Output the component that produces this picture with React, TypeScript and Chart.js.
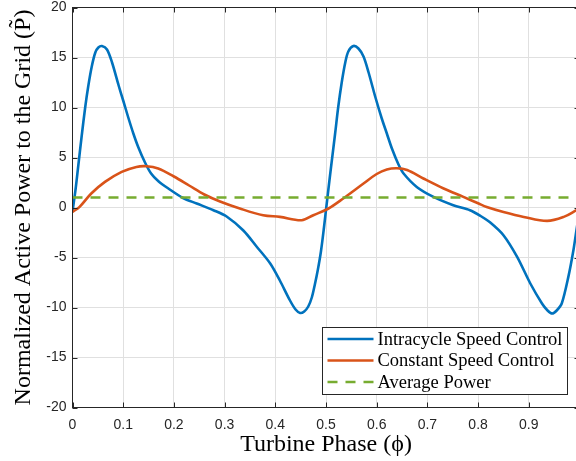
import React, { useEffect, useRef } from "react";
import { Chart, registerables } from "chart.js";

Chart.register(...registerables);

const phaseIntra = [
  0.0, 0.006, 0.011, 0.018, 0.025, 0.031, 0.038, 0.045, 0.051, 0.058, 0.068, 0.078, 0.091, 0.1, 0.11,
  0.12, 0.13, 0.143, 0.155, 0.17, 0.189, 0.218, 0.245, 0.278, 0.304, 0.337, 0.363, 0.39, 0.409, 0.429, 0.44,
  0.449, 0.457, 0.465, 0.472, 0.478, 0.484, 0.49, 0.496, 0.501,
  0.507, 0.512, 0.518, 0.524, 0.531, 0.538, 0.544, 0.554, 0.564, 0.574, 0.584, 0.597, 0.61, 0.62, 0.63,
  0.643, 0.653, 0.679, 0.712, 0.751, 0.784, 0.805, 0.824, 0.85, 0.877, 0.903, 0.926, 0.937, 0.946, 0.955,
  0.965, 0.978, 0.988, 0.994, 1.0,
];
const powerIntra = [
  -0.4, 1.8, 4.0, 7.1, 10.0, 12.1, 14.1, 15.5, 16.0, 16.15, 15.8, 14.5, 12.2, 10.7, 9.0,
  7.4, 6.0, 4.5, 3.4, 2.6, 1.9, 0.95, 0.4, -0.27, -0.9, -2.3, -3.9, -5.6, -7.3, -9.3, -10.2,
  -10.55, -10.4, -9.9, -9.0, -7.7, -6.2, -4.4, -2.0, 0.2,
  2.8, 4.9, 7.4, 10.0, 12.5, 14.5, 15.6, 16.15, 15.9, 15.1, 13.5, 11.1, 8.9, 7.4, 5.9,
  4.3, 3.4, 2.06, 1.06, 0.23, -0.27, -0.85, -1.5, -2.77, -4.94, -7.6, -9.6, -10.3, -10.6, -10.3,
  -9.6, -6.94, -4.27, -2.27, -0.3,
];

const phaseConst = [
  0.0, 0.014, 0.037, 0.064, 0.097, 0.126, 0.146, 0.169, 0.2, 0.23, 0.26, 0.291, 0.33, 0.376, 0.409,
  0.452, 0.475, 0.505, 0.534, 0.574, 0.6, 0.62, 0.64, 0.66, 0.692, 0.732, 0.771, 0.801, 0.817, 0.85, 0.89,
  0.936, 0.969, 0.994, 1.0,
];
const powerConst = [
  -0.44, 0.06, 1.4, 2.56, 3.56, 4.06, 4.13, 3.9, 3.1, 2.2, 1.3, 0.6, -0.1, -0.77, -0.94,
  -1.27, -0.77, -0.1, 0.9, 2.4, 3.35, 3.8, 3.92, 3.75, 2.9, 1.9, 1.06, 0.4, 0.06, -0.44, -0.94,
  -1.34, -0.94, -0.27, -0.1,
];

const phaseAvg = [0, 1];
const powerAvg = [1, 1];

const seriesLabels = ["Intracycle Speed Control", "Constant Speed Control", "Average Power"];

const xTickLabels = ["0", "0.1", "0.2", "0.3", "0.4", "0.5", "0.6", "0.7", "0.8", "0.9", "1"];
const yTickLabels = ["-20", "-15", "-10", "-5", "0", "5", "10", "15", "20"];

const xTitle = "Turbine Phase (\u03D5)";
const yTitle = "Normalized Active Power to the Grid (P\u0303)";

const toPoints = (xs: number[], ys: number[]) => xs.map((x, i) => ({ x, y: ys[i] }));

const AXIS = "#262626";
const SERIF = "'Liberation Serif', 'Times New Roman', serif";
const SANS = "'Liberation Sans', Arial, sans-serif";

const zeroPadding = (s: any) => {
  s.paddingLeft = 0;
  s.paddingRight = 0;
  s.paddingTop = 0;
  s.paddingBottom = 0;
};

const framePlugin = {
  id: "frame",
  afterDraw(chart: any) {
    const { ctx, chartArea: a, scales } = chart;
    ctx.save();
    ctx.strokeStyle = AXIS;
    ctx.lineWidth = 1;
    ctx.strokeRect(a.left, a.top, a.right - a.left, a.bottom - a.top);
    const tl = 5;
    ctx.beginPath();
    scales.x.ticks.forEach((t: any) => {
      const px = Math.round(scales.x.getPixelForValue(t.value)) + 0.5;
      ctx.moveTo(px, a.bottom);
      ctx.lineTo(px, a.bottom - tl);
      ctx.moveTo(px, a.top);
      ctx.lineTo(px, a.top + tl);
    });
    scales.y.ticks.forEach((t: any) => {
      const py = Math.round(scales.y.getPixelForValue(t.value)) + 0.5;
      ctx.moveTo(a.left, py);
      ctx.lineTo(a.left + tl, py);
      ctx.moveTo(a.right, py);
      ctx.lineTo(a.right - tl, py);
    });
    ctx.stroke();

    // legend box
    const bw = 245;
    const bh = 67;
    const bx = Math.round(a.right - 12.5 - bw) + 0.5;
    const by = Math.round(a.bottom - 13.5 - bh) + 0.5;
    ctx.fillStyle = "#ffffff";
    ctx.fillRect(bx, by, bw, bh);
    ctx.strokeStyle = AXIS;
    ctx.lineWidth = 1;
    ctx.strokeRect(bx, by, bw, bh);
    ctx.font = `18.5px ${SERIF}`;
    ctx.textBaseline = "middle";
    ctx.textAlign = "left";
    chart.data.datasets.forEach((ds: any, i: number) => {
      const cy = by + 11.5 + i * 21.5;
      ctx.beginPath();
      ctx.strokeStyle = ds.borderColor;
      ctx.lineWidth = ds.borderWidth;
      ctx.setLineDash(ds.borderDash || []);
      ctx.moveTo(bx + 5, cy);
      ctx.lineTo(bx + 51, cy);
      ctx.stroke();
      ctx.setLineDash([]);
      ctx.fillStyle = "#000000";
      ctx.fillText(ds.label, bx + 55, cy + 1);
    });
    ctx.restore();
  },
};

export default function App() {
  const ref = useRef<HTMLCanvasElement | null>(null);

  useEffect(() => {
    if (!ref.current) return;
    const chart = new Chart(ref.current, {
      type: "line",
      data: {
        datasets: [
          {
            label: seriesLabels[0],
            data: toPoints(phaseIntra, powerIntra),
            borderColor: "#0072BD",
            borderWidth: 2.6,
            pointRadius: 0,
            tension: 0.3,
            order: 3,
          },
          {
            label: seriesLabels[1],
            data: toPoints(phaseConst, powerConst),
            borderColor: "#D95319",
            borderWidth: 2.6,
            pointRadius: 0,
            tension: 0.35,
            order: 2,
          },
          {
            label: seriesLabels[2],
            data: toPoints(phaseAvg, powerAvg),
            borderColor: "#77AC30",
            borderWidth: 2.6,
            borderDash: [10, 8],
            pointRadius: 0,
            order: 1,
          },
        ],
      },
      options: {
        animation: false,
        responsive: false,
        events: [],
        layout: { padding: { top: 7.5, right: 4.5, left: 0, bottom: 0 } },
        plugins: { legend: { display: false }, tooltip: { enabled: false } },
        scales: {
          x: {
            type: "linear",
            min: 0,
            max: 1,
            afterFit: (s: any) => {
              s.height = 53.5;
              zeroPadding(s);
            },
            afterBuildTicks: (s: any) => {
              s.ticks = xTickLabels.map((_, i) => ({ value: i / 10 }));
            },
            ticks: {
              font: { family: SANS, size: 14 },
              color: AXIS,
              padding: 9,
              maxRotation: 0,
              autoSkip: false,
              callback: (_v: any, i: number) => xTickLabels[i],
            },
            grid: { color: "#e0e0e0", drawTicks: false, lineWidth: 1 },
            border: { display: false },
            title: {
              display: true,
              text: xTitle,
              font: { family: SERIF, size: 24 },
              color: "#000000",
              padding: { top: 0, bottom: 1.4 },
            },
          },
          y: {
            type: "linear",
            min: -20,
            max: 20,
            afterFit: (s: any) => {
              s.width = 72.5;
              zeroPadding(s);
            },
            afterBuildTicks: (s: any) => {
              s.ticks = yTickLabels.map((_, i) => ({ value: -20 + i * 5 }));
            },
            ticks: {
              font: { family: SANS, size: 14 },
              color: AXIS,
              padding: 6,
              autoSkip: false,
              callback: (_v: any, i: number) => yTickLabels[i],
            },
            grid: { color: "#e0e0e0", drawTicks: false, lineWidth: 1 },
            border: { display: false },
            title: {
              display: true,
              text: yTitle,
              font: { family: SERIF, size: 24 },
              color: "#000000",
              padding: { top: 9, bottom: 0 },
            },
          },
        },
      },
      plugins: [framePlugin],
    });
    return () => chart.destroy();
  }, []);

  return (
    <div
      style={{
        position: "fixed",
        left: 0,
        top: 0,
        width: 576,
        height: 461,
        overflow: "hidden",
        background: "#ffffff",
      }}
    >
      <canvas ref={ref} width={584} height={461} style={{ display: "block" }} />
    </div>
  );
}
